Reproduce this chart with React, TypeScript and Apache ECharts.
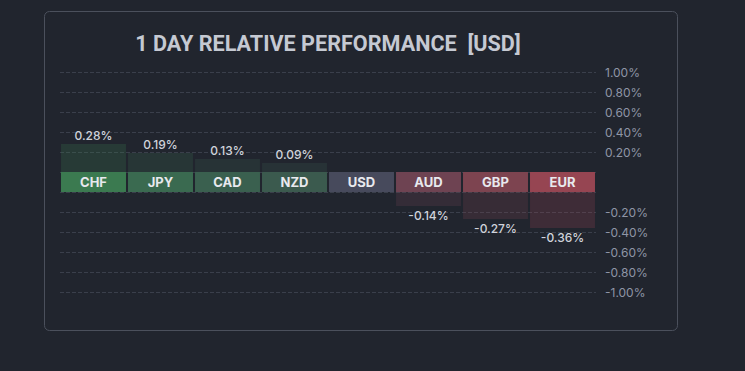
import React, { useEffect, useRef } from "react";
import * as echarts from "echarts";

const categories = ["CHF", "JPY", "CAD", "NZD", "USD", "AUD", "GBP", "EUR"];
const values = [0.28, 0.19, 0.13, 0.09, 0, -0.14, -0.27, -0.36];
const boxColors = ["#3b7a50", "#3a6a50", "#3a604f", "#3b5a4e", "#474a5c", "#6e4352", "#7d4450", "#964552"];
const titleText = "1 DAY RELATIVE PERFORMANCE  [USD]";

const BG = "#21252e";

function hexToRgba(hex: string, a: number) {
  const r = parseInt(hex.slice(1, 3), 16);
  const g = parseInt(hex.slice(3, 5), 16);
  const b = parseInt(hex.slice(5, 7), 16);
  return `rgba(${r},${g},${b},${a})`;
}

export default function App() {
  const ref = useRef<HTMLDivElement>(null);
  useEffect(() => {
    document.body.style.margin = "0";
    document.body.style.background = BG;
    if (!ref.current) return;
    const chart = echarts.init(ref.current, null, { renderer: "svg" });
    const gridLeft = 60;
    const gridWidth = 536;
    const fmt = (v: number) => v.toFixed(2) + "%";
    const axisLabel = { color: "#8f95a6", fontSize: 12, fontFamily: "Inter", margin: 9, formatter: fmt };
    const splitLine = { show: true, lineStyle: { color: "#3a3f4b", type: "dashed" as const, width: 1 } };
    const posData = values.map((v, i) =>
      v > 0 ? { value: v, itemStyle: { color: hexToRgba(boxColors[i], 0.25) } } : "-"
    );
    const negData = values.map((v, i) =>
      v < 0 ? { value: v, itemStyle: { color: hexToRgba(boxColors[i], 0.25) } } : "-"
    );
    const boxData = categories.map((c, i) => ({ value: 1, itemStyle: { color: boxColors[i] } }));
    const valueLabel = {
      show: true,
      color: "#d0d3db",
      fontSize: 12,
      fontWeight: 500,
      fontFamily: "Inter",
      distance: 3,
      formatter: (p: any) => fmt(p.value),
    };
    chart.setOption({
      animation: false,
      backgroundColor: BG,
      graphic: [
        {
          type: "rect",
          shape: { x: 44.5, y: 11.5, width: 633, height: 319, r: 5 },
          style: { fill: "none", stroke: "#4b505c", lineWidth: 1 },
          silent: true,
        },
        {
          type: "text",
          x: 328,
          y: 43,
          style: {
            text: titleText,
            align: "center",
            verticalAlign: "middle",
            fill: "#c5c9d2",
            font: "bold 21.6px Roboto",
          },
        },
      ],
      grid: [
        { left: gridLeft, width: gridWidth, top: 72, height: 100 },
        { left: gridLeft, width: gridWidth, top: 172, height: 20 },
        { left: gridLeft, width: gridWidth, top: 192, height: 100 },
      ],
      xAxis: [0, 1, 2].map((g) => ({
        type: "category",
        gridIndex: g,
        data: categories,
        show: false,
      })),
      yAxis: [
        {
          type: "value",
          gridIndex: 0,
          position: "right",
          min: 0,
          max: 1,
          interval: 0.2,
          axisLine: { show: false },
          axisTick: { show: false },
          axisLabel: { ...axisLabel, showMinLabel: false },
          splitLine,
        },
        { type: "value", gridIndex: 1, min: 0, max: 1, show: false },
        {
          type: "value",
          gridIndex: 2,
          position: "right",
          min: -1,
          max: 0,
          interval: 0.2,
          axisLine: { show: false },
          axisTick: { show: false },
          axisLabel: { ...axisLabel, showMaxLabel: false },
          splitLine,
        },
      ],
      series: [
        {
          type: "bar",
          xAxisIndex: 0,
          yAxisIndex: 0,
          data: posData,
          barCategoryGap: "3%",
          label: { ...valueLabel, position: "top" },
        },
        {
          type: "bar",
          xAxisIndex: 1,
          yAxisIndex: 1,
          data: boxData,
          barCategoryGap: "3%",
          label: {
            show: true,
            position: "inside",
            color: "#e8e9ee",
            fontSize: 13,
            fontWeight: "bold",
            fontFamily: "Inter",
            formatter: (p: any) => p.name,
          },
        },
        {
          type: "bar",
          xAxisIndex: 2,
          yAxisIndex: 2,
          data: negData,
          barCategoryGap: "3%",
          label: { ...valueLabel, position: "bottom" },
        },
      ],
    });
    return () => chart.dispose();
  }, []);
  return <div ref={ref} style={{ position: "absolute", left: 0, top: 0, width: 745, height: 371 }} />;
}
